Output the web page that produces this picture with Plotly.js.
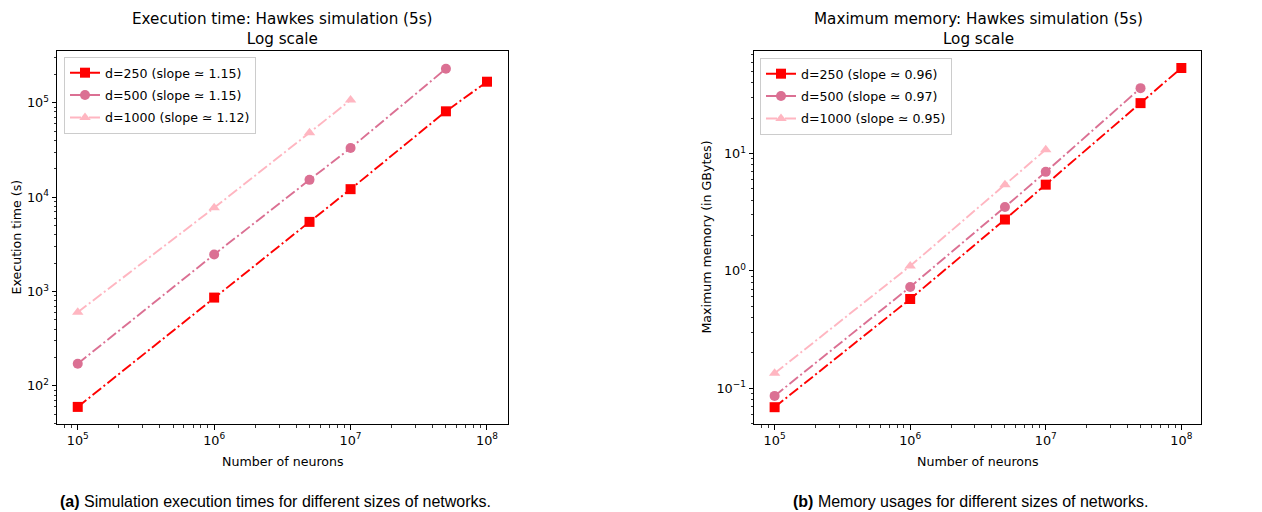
<!DOCTYPE html>
<html><head><meta charset="utf-8">
<script src="https://cdn.plot.ly/plotly-3.0.1.min.js"></script>
<style>html,body{margin:0;padding:0;background:#fff}#chart{width:1262px;height:512px}</style>
</head><body><div id="chart"></div><script>
// ---- data ----
const neurons250 = [1e5, 1e6, 5e6, 1e7, 5e7, 1e8];
const neurons500 = [1e5, 1e6, 5e6, 1e7, 5e7];
const neurons1000 = [1e5, 1e6, 5e6, 1e7];
const time250 = [60, 863, 5470, 12150, 81100, 167000];
const time500 = [172, 2466, 15240, 33100, 229000];
const time1000 = [603, 7710, 48100, 107000];
const mem250 = [0.0689, 0.576, 2.74, 5.43, 26.9, 53.6];
const mem500 = [0.086, 0.73, 3.5, 6.98, 36.1];
const mem1000 = [0.134, 1.1, 5.43, 10.8];
const timeLabels = ['d=250 (slope \u2243 1.15)', 'd=500 (slope \u2243 1.15)', 'd=1000 (slope \u2243 1.12)'];
const memLabels = ['d=250 (slope \u2243 0.96)', 'd=500 (slope \u2243 0.97)', 'd=1000 (slope \u2243 0.95)'];
const xTickVals = [1e5, 1e6, 1e7, 1e8];
const xTickText = ['10<sup>5</sup>', '10<sup>6</sup>', '10<sup>7</sup>', '10<sup>8</sup>'];
const yTimeTickVals = [1e2, 1e3, 1e4, 1e5];
const yTimeTickText = ['10<sup>2</sup>', '10<sup>3</sup>', '10<sup>4</sup>', '10<sup>5</sup>'];
const yMemTickVals = [0.1, 1, 10];
const yMemTickText = ['10<sup>\u22121</sup>', '10<sup>0</sup>', '10<sup>1</sup>'];

// ---- styling ----
const FONT = 'DejaVu Sans';
const colors = ['#ff0000', '#db7093', '#ffb6c1'];
const symbols = ['square', 'circle', 'triangle-up'];
const DASH = '11px,3px,2px,3px';

function minorVals(e0, e1) {
  const v = [];
  for (let e = e0; e <= e1; e++) for (let k = 2; k <= 9; k++) v.push(k * Math.pow(10, e));
  return v;
}

function mk(x, y, i, name, xa, ya, leg) {
  return {
    x: x, y: y, name: name, type: 'scatter', mode: 'lines+markers',
    xaxis: xa, yaxis: ya, legend: leg, legendgroup: leg + i,
    line: {color: colors[i], width: 1.9, dash: DASH},
    marker: {color: colors[i], symbol: symbols[i], size: 10, line: {width: 0}}
  };
}

const traces = [
  mk(neurons250, time250, 0, timeLabels[0], 'x', 'y', 'legend'),
  mk(neurons500, time500, 1, timeLabels[1], 'x', 'y', 'legend'),
  mk(neurons1000, time1000, 2, timeLabels[2], 'x', 'y', 'legend'),
  mk(neurons250, mem250, 0, memLabels[0], 'x2', 'y2', 'legend2'),
  mk(neurons500, mem500, 1, memLabels[1], 'x2', 'y2', 'legend2'),
  mk(neurons1000, mem1000, 2, memLabels[2], 'x2', 'y2', 'legend2')
];

const TICKFONT = {family: FONT, size: 12.8, color: '#000'};
function axis(extra) {
  return Object.assign({
    type: 'log', showgrid: false, zeroline: false,
    showline: true, mirror: true, linecolor: '#000', linewidth: 1,
    ticks: 'outside', ticklen: 4.5, tickwidth: 1, tickcolor: '#000',
    tickmode: 'array', tickfont: TICKFONT,
    automargin: false
  }, extra);
}
function minor(e0, e1) {
  return {tickmode: 'array', tickvals: minorVals(e0, e1), ticks: 'outside', ticklen: 2.5,
          tickwidth: 0.8, tickcolor: '#000', showgrid: false};
}

const W = 1262, H = 512;
const yDom = [(H - 424) / H, (H - 51) / H];

function ann(text, x, y, size, extra) {
  return Object.assign({text: text, x: x / W, y: (H - y) / H, xref: 'paper', yref: 'paper',
    xanchor: 'center', yanchor: 'middle', align: 'center', showarrow: false,
    font: {family: FONT, size: size, color: '#000'}}, extra || {});
}

const legendStyle = {
  xanchor: 'left', yanchor: 'top',
  bgcolor: 'rgba(255,255,255,0.8)', bordercolor: '#cccccc', borderwidth: 1,
  font: {family: FONT, size: 12.6, color: '#000'}, tracegroupgap: 3
};

const layout = {
  width: W, height: H,
  margin: {l: 0, r: 0, t: 0, b: 0},
  paper_bgcolor: '#fff', plot_bgcolor: '#fff',
  font: {family: FONT, size: 12, color: '#000'},
  xaxis: axis({domain: [57 / W, 508 / W], range: [4.848, 8.154], anchor: 'y',
    tickvals: xTickVals, ticktext: xTickText, minor: minor(4, 8)}),
  yaxis: axis({domain: yDom, range: [1.597, 5.548], anchor: 'x',
    tickvals: yTimeTickVals, ticktext: yTimeTickText, minor: minor(1, 5)}),
  xaxis2: axis({domain: [754 / W, 1201 / W], range: [4.848, 8.145], anchor: 'y2',
    tickvals: xTickVals, ticktext: xTickText, minor: minor(4, 8)}),
  yaxis2: axis({domain: yDom, range: [-1.305, 1.874], anchor: 'x2',
    tickvals: yMemTickVals, ticktext: yMemTickText, minor: minor(-2, 1)}),
  legend: Object.assign({x: 64 / W, y: (H - 57) / H}, legendStyle),
  legend2: Object.assign({x: 760 / W, y: (H - 58) / H}, legendStyle),
  annotations: [
    ann('Execution time: Hawkes simulation (5s)<br>Log scale', 282, 29, 15.2),
    ann('Maximum memory: Hawkes simulation (5s)<br>Log scale', 978, 29, 15.2),
    ann('Number of neurons', 283, 461, 12.6),
    ann('Number of neurons', 978, 461, 12.6),
    ann('Execution time (s)', 16, 237.5, 12.6, {textangle: -90}),
    ann('Maximum memory (in GBytes)', 706, 237.5, 12.6, {textangle: -90}),
    ann('<b>(a)</b> Simulation execution times for different sizes of networks.', 275, 501, 16,
        {font: {family: 'Liberation Sans', size: 16, color: '#000'}}),
    ann('<b>(b)</b> Memory usages for different sizes of networks.', 970, 501, 16,
        {font: {family: 'Liberation Sans', size: 16, color: '#000'}})
  ]
};

Plotly.newPlot('chart', traces, layout, {displayModeBar: false, staticPlot: true});
</script></body></html>
